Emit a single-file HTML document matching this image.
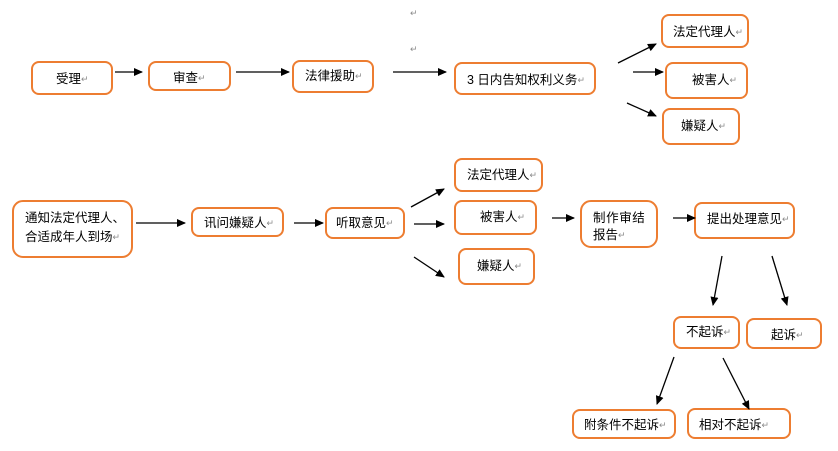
<!DOCTYPE html>
<html><head><meta charset="utf-8"><style>
html,body{margin:0;padding:0;background:#fff;}
svg{display:block;}
text{font-family:"Liberation Sans","Noto Sans CJK SC",sans-serif;font-size:12.5px;fill:#000;dominant-baseline:central;}
.p{fill:#8a8a8a;font-size:9px;}
rect{fill:#fff;stroke:#ED7D31;stroke-width:2;}
line{stroke:#000;stroke-width:1.3;}
</style></head><body>
<svg width="838" height="451" viewBox="0 0 838 451" xmlns="http://www.w3.org/2000/svg">
<defs><marker id="a" markerWidth="9" markerHeight="8" refX="8" refY="4" orient="auto" markerUnits="userSpaceOnUse"><path d="M0,0 L9,4 L0,8 z" fill="#000"/></marker></defs>

<text x="410" y="13" class="p">↵</text>
<text x="410" y="49" class="p">↵</text>

<!-- row 1 -->
<rect x="32" y="62" width="80" height="32" rx="7"/>
<text x="56" y="79">受理<tspan class="p">↵</tspan></text>
<rect x="149" y="62" width="81" height="28" rx="7"/>
<text x="173" y="78">审查<tspan class="p">↵</tspan></text>
<rect x="293" y="61" width="80" height="31" rx="7"/>
<text x="305" y="76">法律援助<tspan class="p">↵</tspan></text>
<rect x="455" y="63" width="140" height="31" rx="7"/>
<text x="467" y="80">3 日内告知权利义务<tspan class="p">↵</tspan></text>
<rect x="662" y="15" width="86" height="32" rx="7"/>
<text x="673" y="32">法定代理人<tspan class="p">↵</tspan></text>
<rect x="666" y="63" width="81" height="35" rx="7"/>
<text x="692" y="80">被害人<tspan class="p">↵</tspan></text>
<rect x="663" y="109" width="76" height="35" rx="7"/>
<text x="681" y="126">嫌疑人<tspan class="p">↵</tspan></text>

<line x1="115" y1="72" x2="142" y2="72" marker-end="url(#a)"/>
<line x1="236" y1="72" x2="289" y2="72" marker-end="url(#a)"/>
<line x1="393" y1="72" x2="446" y2="72" marker-end="url(#a)"/>
<line x1="618" y1="63" x2="656" y2="44" marker-end="url(#a)"/>
<line x1="633" y1="72" x2="663" y2="72" marker-end="url(#a)"/>
<line x1="627" y1="103" x2="656" y2="116" marker-end="url(#a)"/>

<!-- row 2 -->
<rect x="13" y="201" width="119" height="56" rx="10"/>
<text x="25" y="218">通知法定代理人、</text>
<text x="25" y="237">合适成年人到场<tspan class="p">↵</tspan></text>
<rect x="192" y="208" width="91" height="28" rx="7"/>
<text x="204" y="223">讯问嫌疑人<tspan class="p">↵</tspan></text>
<rect x="326" y="208" width="78" height="30" rx="7"/>
<text x="336" y="223">听取意见<tspan class="p">↵</tspan></text>
<rect x="455" y="159" width="87" height="32" rx="7"/>
<text x="467" y="175">法定代理人<tspan class="p">↵</tspan></text>
<rect x="455" y="201" width="81" height="33" rx="7"/>
<text x="480" y="217">被害人<tspan class="p">↵</tspan></text>
<rect x="459" y="249" width="75" height="35" rx="7"/>
<text x="477" y="266">嫌疑人<tspan class="p">↵</tspan></text>
<rect x="581" y="201" width="76" height="46" rx="10"/>
<text x="593" y="218" letter-spacing="0.6">制作审结</text>
<text x="593" y="235">报告<tspan class="p">↵</tspan></text>
<rect x="695" y="203" width="99" height="35" rx="7"/>
<text x="707" y="219">提出处理意见<tspan class="p">↵</tspan></text>

<line x1="136" y1="223" x2="185" y2="223" marker-end="url(#a)"/>
<line x1="294" y1="223" x2="323" y2="223" marker-end="url(#a)"/>
<line x1="411" y1="207" x2="444" y2="189" marker-end="url(#a)"/>
<line x1="414" y1="224" x2="444" y2="224" marker-end="url(#a)"/>
<line x1="414" y1="257" x2="444" y2="277" marker-end="url(#a)"/>
<line x1="552" y1="218" x2="574" y2="218" marker-end="url(#a)"/>
<line x1="673" y1="218" x2="695" y2="218" marker-end="url(#a)"/>
<line x1="722" y1="256" x2="713" y2="305" marker-end="url(#a)"/>
<line x1="772" y1="256" x2="787" y2="305" marker-end="url(#a)"/>

<!-- row 3 -->
<rect x="674" y="317" width="65" height="31" rx="7"/>
<text x="686" y="332">不起诉<tspan class="p">↵</tspan></text>
<rect x="747" y="319" width="74" height="29" rx="7"/>
<text x="771" y="335">起诉<tspan class="p">↵</tspan></text>
<rect x="573" y="410" width="102" height="28" rx="7"/>
<text x="584" y="425">附条件不起诉<tspan class="p">↵</tspan></text>
<rect x="688" y="409" width="102" height="29" rx="7"/>
<text x="699" y="425">相对不起诉<tspan class="p">↵</tspan></text>

<line x1="674" y1="357" x2="657" y2="404" marker-end="url(#a)"/>
<line x1="723" y1="358" x2="749" y2="409" marker-end="url(#a)"/>
</svg>
</body></html>
